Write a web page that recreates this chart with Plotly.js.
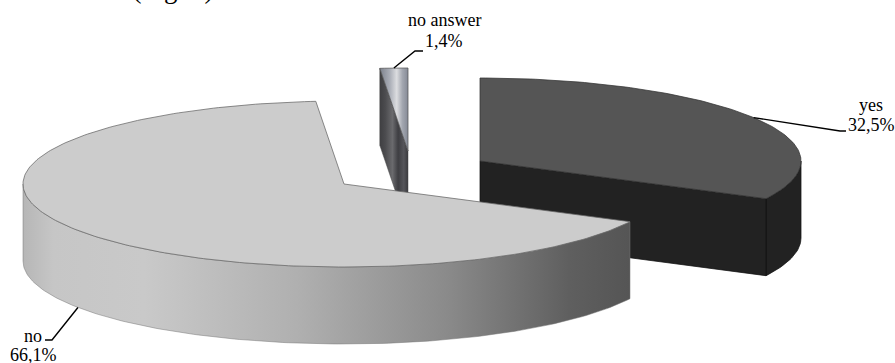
<!DOCTYPE html>
<html>
<head>
<meta charset="utf-8">
<script src="https://cdn.plot.ly/plotly-3.0.1.min.js"></script>
<style>html,body{margin:0;padding:0;background:#fff;overflow:hidden}</style>
</head>
<body>
<div id="chart" style="width:895px;height:363px"></div>
<script>
// Survey answers, in clockwise order starting from twelve o'clock
const categories = ['yes', 'no', 'no answer'];
const shares = [32.5, 66.1, 1.4];
const shareLabels = ['32,5%', '66,1%', '1,4%'];
const captionText = 'esses et al. (Fig. 5).';

// Exploded 3D pie drawing setup: one tilted ellipse per slice, extruded downward
const RX = 321, RY = 83, DEPTH = 77;
const centres = { yes: [480, 161], no: [344, 184], 'no answer': [408, 151] };
const serif = 'Liberation Serif, Times New Roman, serif';

// Slice start/end angles in degrees, derived from the shares
const spans = {};
let running = 0;
categories.forEach((c, i) => {
  const sweep = shares[i] * 3.6;
  spans[c] = [running, running + sweep];
  running += sweep;
});

const rim = (c, deg, drop = 0) => {
  const t = deg * Math.PI / 180;
  return [c[0] + RX * Math.sin(t), c[1] - RY * Math.cos(t) + drop];
};
const arc = (c, a0, a1, drop = 0) => {
  const n = Math.max(2, Math.ceil(Math.abs(a1 - a0)));
  const pts = [];
  for (let i = 0; i <= n; i++) pts.push(rim(c, a0 + (a1 - a0) * i / n, drop));
  return pts;
};
const shape = (pts, style) => Object.assign({
  x: pts.map(p => p[0]).concat(pts[0][0]),
  y: pts.map(p => p[1]).concat(pts[0][1]),
  mode: 'lines', fill: 'toself', hoverinfo: 'skip', showlegend: false
}, style);

const topFace = (name) => [centres[name]].concat(arc(centres[name], spans[name][0], spans[name][1]));
const outerWall = (name, a0, a1) => arc(centres[name], a0, a1).concat(arc(centres[name], a1, a0, DEPTH));
const cutFace = (name, deg) => {
  const c = centres[name], r = rim(c, deg);
  return [c, r, [r[0], r[1] + DEPTH], [c[0], c[1] + DEPTH]];
};
const horizontal = (stops) => ({ type: 'horizontal', colorscale: stops });

const traces = [
  // yes slice, at the back right
  shape(outerWall('yes', 90, spans.yes[1]), { fillcolor: '#222222', line: { color: '#111111', width: 0.75 } }),
  shape(cutFace('yes', spans.yes[1]), { fillcolor: '#222222', line: { color: '#111111', width: 0.75 } }),
  shape(topFace('yes'), { fillcolor: '#555555', line: { color: '#333333', width: 0.75 } }),

  // no answer sliver, with its metallic shading
  shape(cutFace('no answer', spans['no answer'][0]), {
    fillgradient: horizontal([[0, '#3f3f42'], [0.2, '#4c4c4f'], [0.45, '#6a6a6d'], [0.65, '#3e3e42'], [0.85, '#55555a'], [1, '#3a3a3e']]),
    line: { color: '#444444', width: 0.5 }
  }),
  shape(topFace('no answer'), {
    fillgradient: horizontal([[0, '#7c818c'], [0.35, '#a9adb6'], [0.6, '#dcdde0'], [0.8, '#a3a7b0'], [1, '#858a96']]),
    line: { color: '#555555', width: 0.75 }
  }),

  // no slice, in front of everything else
  shape(outerWall('no', spans.no[0], 270), {
    fillgradient: horizontal([[0, '#b6b6b6'], [0.05, '#c6c6c6'], [0.2, '#c9c9c9'], [0.45, '#b0b0b0'], [0.7, '#8a8a8a'], [0.9, '#5f5f5f'], [1, '#555555']]),
    line: { color: '#777777', width: 0.5 }
  }),
  shape(topFace('no'), { fillcolor: '#cccccc', line: { color: '#666666', width: 0.75 } })
];

// Leader lines leave each slice at its mid angle
const leaderOffsets = {
  yes: { drop: 0, elbow: [840, 131], end: [846, 131] },
  no: { drop: DEPTH, elbow: [52, 340], end: [45, 340] },
  'no answer': { drop: 0, elbow: [415, 51], end: [423, 51] }
};
categories.forEach((c) => {
  const mid = (spans[c][0] + spans[c][1]) / 2;
  const o = leaderOffsets[c];
  const start = rim(centres[c], mid, o.drop);
  traces.push({
    x: [start[0], o.elbow[0], o.end[0]],
    y: [start[1], o.elbow[1], o.end[1]],
    mode: 'lines', line: { color: '#000000', width: 1.4 }, hoverinfo: 'skip', showlegend: false
  });
});

// Two-line slice labels
const labelAnchors = {
  yes: [871, 105, 125],
  no: [33, 336, 355],
  'no answer': [444, 20, 41]
};
const text = (str, x, y, extra) => Object.assign({
  text: str, x, y, xref: 'x', yref: 'y', showarrow: false,
  xanchor: 'center', yanchor: 'middle',
  font: { family: serif, size: 18, color: '#000000' }
}, extra || {});
const annotations = [];
categories.forEach((c, i) => {
  const a = labelAnchors[c];
  annotations.push(text(c, a[0], a[1]));
  annotations.push(text(shareLabels[i], a[0], a[2]));
});
// Last line of the running text above the figure, cut by the top edge
annotations.push(text(captionText, 222, 6, {
  xanchor: 'right', yanchor: 'bottom',
  font: { family: serif, size: 27, color: '#000000' }
}));

const hidden = { visible: false, showgrid: false, zeroline: false, fixedrange: true };
Plotly.newPlot('chart', traces, {
  width: 895, height: 363,
  margin: { l: 0, r: 0, t: 0, b: 0 },
  paper_bgcolor: '#ffffff', plot_bgcolor: '#ffffff',
  showlegend: false,
  xaxis: Object.assign({ range: [0, 895] }, hidden),
  yaxis: Object.assign({ range: [363, 0] }, hidden),
  annotations
}, { displayModeBar: false, staticPlot: true });
</script>
</body>
</html>
